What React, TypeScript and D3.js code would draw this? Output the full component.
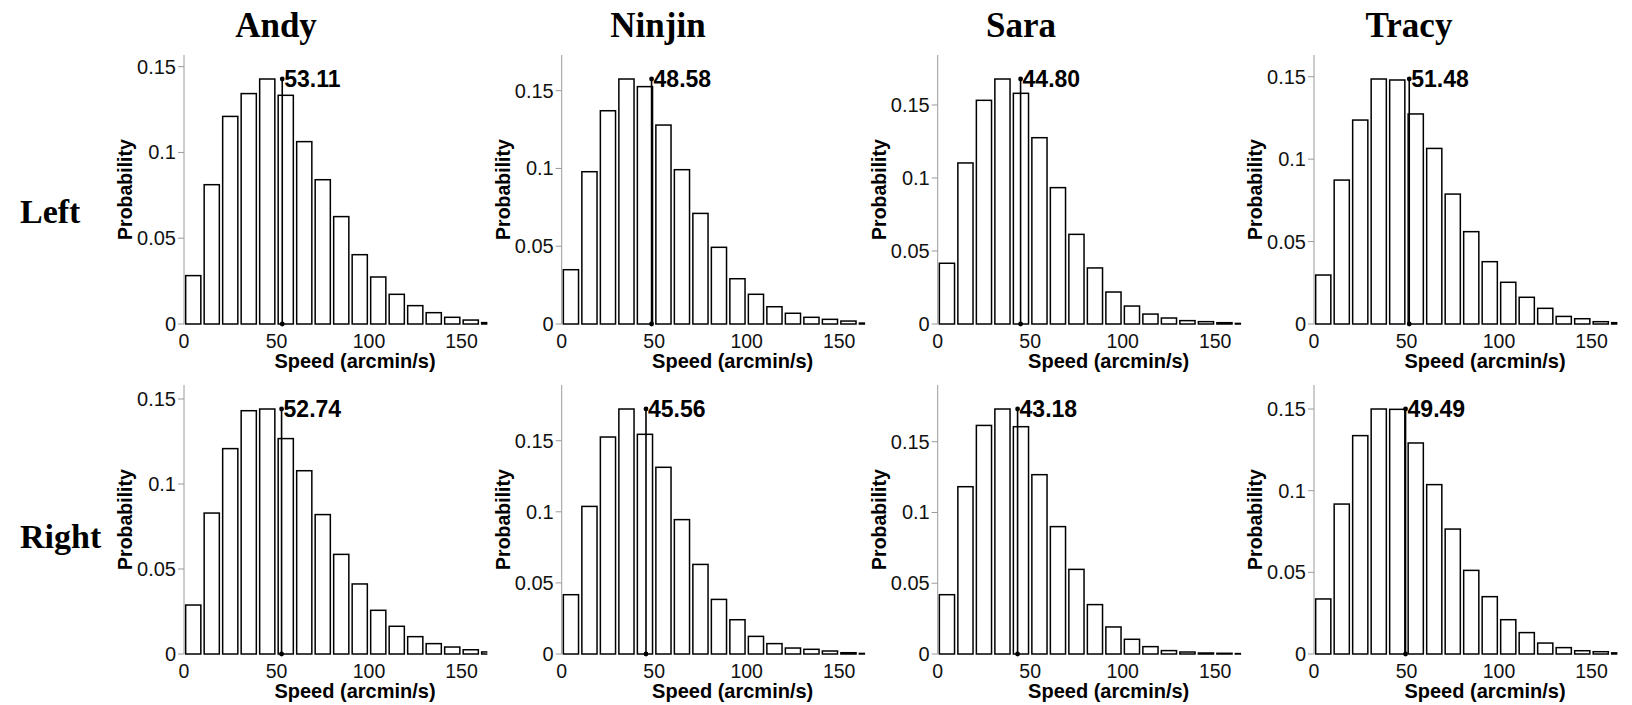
import React from 'react';
import * as d3 from 'd3';

// ---------- data ----------
const subjects = ['Andy', 'Ninjin', 'Sara', 'Tracy'];
const sides = ['Left', 'Right'];
// bin start values (arcmin/s), bin width 10
const binStarts = [0, 10, 20, 30, 40, 50, 60, 70, 80, 90, 100, 110, 120, 130, 140, 150, 160];
const binWidth = 10;

const andyLeft = [0.0282, 0.0812, 0.121, 0.1343, 0.1428, 0.1333, 0.1063, 0.0841, 0.0626, 0.0404, 0.0274, 0.0173, 0.0107, 0.0066, 0.0039, 0.0023, 0.0008];
const ninjinLeft = [0.0349, 0.0979, 0.1371, 0.1575, 0.1526, 0.1279, 0.0992, 0.0711, 0.0493, 0.0291, 0.0191, 0.0111, 0.0069, 0.0043, 0.003, 0.0019, 0.0006];
const saraLeft = [0.0416, 0.1103, 0.1532, 0.1678, 0.158, 0.1276, 0.0934, 0.0614, 0.0384, 0.0219, 0.0123, 0.0068, 0.0041, 0.0023, 0.0016, 0.0009, 0.0004];
const tracyLeft = [0.0297, 0.0873, 0.1237, 0.1486, 0.148, 0.1274, 0.1065, 0.0788, 0.056, 0.0378, 0.0253, 0.0162, 0.0095, 0.0046, 0.0032, 0.0014, 0.0008];

const andyRight = [0.0288, 0.0829, 0.1208, 0.1431, 0.1441, 0.1267, 0.1078, 0.082, 0.0586, 0.0412, 0.0257, 0.0163, 0.0102, 0.0061, 0.0041, 0.0025, 0.0012];
const ninjinRight = [0.0417, 0.1038, 0.1526, 0.1723, 0.1545, 0.1313, 0.0945, 0.063, 0.0384, 0.0241, 0.0124, 0.0073, 0.0042, 0.0033, 0.0021, 0.0009, 0.0004];
const saraRight = [0.0419, 0.1182, 0.1615, 0.1731, 0.1606, 0.1267, 0.09, 0.0598, 0.0349, 0.0191, 0.0104, 0.0052, 0.0024, 0.0014, 0.0007, 0.0005, 0.0003];
const tracyRight = [0.0337, 0.0918, 0.1337, 0.15, 0.1498, 0.1292, 0.1037, 0.0765, 0.0512, 0.0351, 0.021, 0.0131, 0.0067, 0.0039, 0.002, 0.0014, 0.0007];

const meansLeft = [53.11, 48.58, 44.8, 51.48];
const meansRight = [52.74, 45.56, 43.18, 49.49];

const xTicks = [0, 50, 100, 150];
const yTicks = [0, 0.05, 0.1, 0.15];

const histograms = [
  [andyLeft, ninjinLeft, saraLeft, tracyLeft],
  [andyRight, ninjinRight, saraRight, tracyRight],
];
const means = [meansLeft, meansRight];

// ---------- layout ----------
const W = 1632;
const H = 705;
const colX = [184, 561.7, 937.7, 1314];
const rowTop = [55, 385];
const plotH = 269;
const xMaxDomain = 164;
const pxPerUnit = 1.85;
const titleX = [276, 658, 1021, 1409];
const rowLabelY = [223, 548];

const sans = 'Arial, "Liberation Sans", Helvetica, sans-serif';
const serif = '"Liberation Serif", "Times New Roman", serif';

function Panel({ r, c }: { r: number; c: number }) {
  const values = histograms[r][c];
  const mean = means[r][c];
  const maxV = d3.max(values) as number;
  const x = d3.scaleLinear().domain([0, xMaxDomain]).range([0, xMaxDomain * pxPerUnit]);
  const y = d3.scaleLinear().domain([0, maxV * 1.098]).range([plotH, 0]);
  const barPad = 0.9;
  const clipId = `clip-${r}-${c}`;
  const fmt = (v: number) => String(v);
  return (
    <g transform={`translate(${colX[c]},${rowTop[r]})`}>
      <defs>
        <clipPath id={clipId}>
          <rect x={0} y={-5} width={x(xMaxDomain)} height={plotH + 10} />
        </clipPath>
      </defs>
      {/* y axis */}
      <line x1={0} x2={0} y1={0} y2={plotH} stroke="#9a9a9a" strokeWidth={1} />
      {yTicks.map((t) => (
        <g key={t} transform={`translate(0,${y(t)})`}>
          <line x1={-6} x2={0} stroke="#9a9a9a" strokeWidth={1} />
          <text x={-8} dy="0.35em" textAnchor="end" fontFamily={sans} fontSize={20} fill="#111">
            {fmt(t)}
          </text>
        </g>
      ))}
      {/* bars */}
      <g clipPath={`url(#${clipId})`}>
        {values.map((v, i) => (
          <rect
            key={i}
            x={x(binStarts[i] + barPad)}
            y={y(v)}
            width={x(binStarts[i] + binWidth - barPad) - x(binStarts[i] + barPad)}
            height={plotH - y(v)}
            fill="#fff"
            stroke="#000"
            strokeWidth={1.5}
          />
        ))}
      </g>
      {/* x tick labels */}
      {xTicks.map((t) => (
        <text key={t} x={x(t)} y={plotH + 24} textAnchor="middle" fontFamily={sans} fontSize={19.5} fill="#111">
          {t}
        </text>
      ))}
      {/* mean marker */}
      <line x1={x(mean)} x2={x(mean)} y1={plotH} y2={y(maxV)} stroke="#000" strokeWidth={1.6} />
      <circle cx={x(mean)} cy={plotH} r={2.4} fill="#000" />
      <circle cx={x(mean)} cy={y(maxV)} r={2.4} fill="#000" />
      <text x={x(mean) + 2} y={y(maxV)} dy="0.35em" fontFamily={sans} fontWeight="bold" fontSize={23} fill="#000">
        {mean.toFixed(2)}
      </text>
      {/* axis labels */}
      <text
        transform={`translate(-52,${plotH / 2}) rotate(-90)`}
        textAnchor="middle"
        fontFamily={sans}
        fontWeight="bold"
        fontSize={19.5}
        fill="#000"
      >
        Probability
      </text>
      <text x={171} y={plotH + 44} textAnchor="middle" fontFamily={sans} fontWeight="bold" fontSize={20} fill="#000">
        Speed (arcmin/s)
      </text>
    </g>
  );
}

export default function App() {
  return (
    <svg
      width={W}
      height={H}
      viewBox={`0 0 ${W} ${H}`}
      style={{ position: 'absolute', left: 0, top: 0, background: '#fff' }}
    >
      <rect x={0} y={0} width={W} height={H} fill="#fff" />
      {subjects.map((s, c) => (
        <text key={s} x={titleX[c]} y={37} textAnchor="middle" fontFamily={serif} fontWeight="bold" fontSize={35} fill="#000">
          {s}
        </text>
      ))}
      {sides.map((s, r) => (
        <text key={s} x={20} y={rowLabelY[r]} fontFamily={serif} fontWeight="bold" fontSize={34} fill="#000">
          {s}
        </text>
      ))}
      {sides.map((_, r) => subjects.map((__, c) => <Panel key={`${r}-${c}`} r={r} c={c} />))}
    </svg>
  );
}
